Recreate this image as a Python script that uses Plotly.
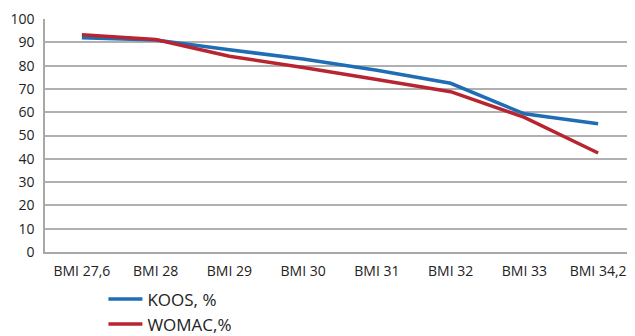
import plotly.graph_objects as go

categories = ["BMI 27,6", "BMI 28", "BMI 29", "BMI 30", "BMI 31", "BMI 32", "BMI 33", "BMI 34,2"]
koos = [92, 91, 86.8, 82.8, 78, 72.4, 59.3, 55]
womac = [93.2, 91.2, 84, 79.2, 74, 68.8, 57.8, 42.5]

fig = go.Figure()
fig.add_trace(go.Scatter(x=categories, y=koos, mode="lines", name="KOOS, %",
                         line=dict(color="#1f6db5", width=3.5)))
fig.add_trace(go.Scatter(x=categories, y=womac, mode="lines", name="WOMAC,%",
                         line=dict(color="#b82530", width=3.5)))

# page body has an 8px margin, so the figure is sized/offset to fit the 635x336 window
fig.update_layout(
    width=627, height=328,
    margin=dict(l=37, r=0, t=11, b=84, autoexpand=False),
    paper_bgcolor="white", plot_bgcolor="white",
    font=dict(family="Open Sans", size=14, color="#222"),
    showlegend=True,
    legend=dict(x=0.099, y=-0.126, xanchor="left", yanchor="top",
                font=dict(size=17, color="#222"), tracegroupgap=0,
                itemwidth=34, bgcolor="rgba(0,0,0,0)"),
)
fig.update_xaxes(range=[-0.5, 7.5], showgrid=False, showline=True, linecolor="#a8a8a8", linewidth=1.5,
                 ticks="", tickfont=dict(size=14), ticklabelstandoff=5)
fig.update_yaxes(range=[0, 100], dtick=10, showgrid=True, gridcolor="#b0b0b0", gridwidth=1.5,
                 showline=True, linecolor="#a8a8a8", linewidth=1.5, zeroline=False,
                 ticks="", tickfont=dict(size=14), ticklabelstandoff=6)

fig.write_html("out.html")
